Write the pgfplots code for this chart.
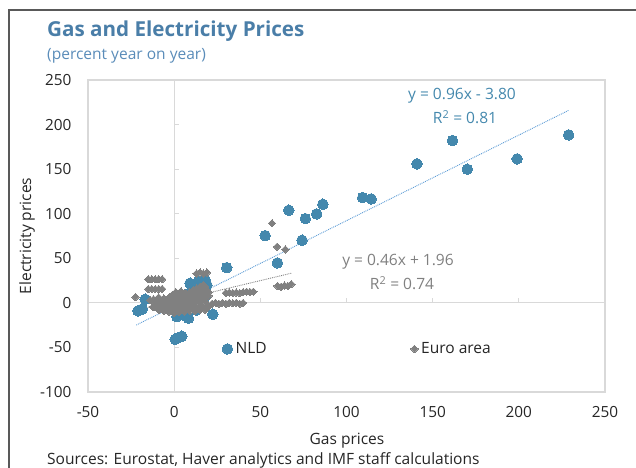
\documentclass[border=0pt]{standalone}
\usepackage{pgfplots}
\pgfplotsset{compat=1.18}
\usepackage{fontspec}
\setmainfont{Open Sans}
\definecolor{nldblue}{RGB}{68,136,173}
\definecolor{titleblue}{RGB}{74,126,168}
\definecolor{subblue}{RGB}{90,140,185}
\definecolor{eagray}{RGB}{128,128,128}
\definecolor{trendblue}{RGB}{91,155,213}
\definecolor{gridgray}{RGB}{217,217,217}
\definecolor{framegray}{RGB}{89,89,89}
\definecolor{txt}{RGB}{38,38,38}
\newcommand{\fs}[1]{\fontsize{#1}{#1}\selectfont}
\begin{document}
\begin{tikzpicture}[x=1bp,y=1bp]
\useasboundingbox (0,0) rectangle (636,468);
\draw[framegray, line width=1.2bp] (9,0) -- (9,458) -- (636,458);
% titles
\node[anchor=west, text=titleblue, font=\bfseries\fs{20.7}, inner sep=0] at (47,437) {Gas and Electricity Prices};
\node[anchor=west, text=subblue, font=\fs{15.6}, inner sep=0] at (47,412) {(percent year on year)};
% zero lines with ticks
\draw[gridgray, line width=1.2bp] (174.17,76) -- (174.17,388);
\draw[gridgray, line width=1.2bp] (88,165.14) -- (605,165.14);
\foreach \yy in {76,120.57,165.14,209.71,254.29,298.86,343.43,388} \draw[gridgray, line width=1.2bp] (174.17,\yy) -- ++(5,0);
\foreach \xx in {88,174.17,260.33,346.5,432.67,518.83,605} \draw[gridgray, line width=1.2bp] (\xx,165.14) -- ++(0,5);
\begin{axis}[
  at={(88bp,76bp)}, anchor=south west, scale only axis,
  width=517bp, height=312bp,
  xmin=-50, xmax=250, ymin=-100, ymax=250,
  xtick={-50,0,...,250}, ytick={-100,-50,...,250},
  major tick length=0pt,
  axis line style={gridgray, line width=1.2bp},
  tick label style={font=\fs{15.4}, text=txt},
  /pgf/number format/assume math mode=true,
  xticklabel style={yshift=-11bp},
  yticklabel style={xshift=-13bp},
  clip=false,
  legend columns=2,
  legend style={at={(0.259,0.138)}, anchor=west, draw=none, fill=none, font=\fs{15.6}, text=txt, inner sep=0pt,
    /tikz/every odd column/.append style={column sep=1bp},
    /tikz/every even column/.append style={column sep=142bp}},
  legend image code/.code={\draw[#1] plot coordinates {(0bp,0bp)};},
]
\addplot[only marks, mark=*, mark size=5.3bp, mark options={fill=nldblue, draw=nldblue, line width=0pt}] coordinates {
(228.9,188.4) (199,161.5) (161.5,182.1) (170.1,149.9) (140.9,155.9) (109.4,118.1) (114.3,116.6)
(86.3,110.6) (82.7,99.8) (76.1,94.5) (66.5,103.9) (74.2,70.2) (52.8,75.4) (59.9,44.8) (30.5,39.5)
(22.4,-12.8) (-16.8,4) (-21,-9) (-18.5,-7) (1.5,-15.5) (7.3,-15.5) (8.3,-17.3) (0.6,-40.9) (2.5,-39) (4.4,-37.5)
(9.2,22) (14,23.8) (17.9,25.7) (16,14.5) (17.9,7) (11.2,8.9) (19,20) (-0.4,-4.2) (13,-8)
(0,0) (5,2) (-5,-3) (10,5) (3,-5) (8,10) (12,12) (-8,-2) (6,-8) (15,15)
};
\addlegendentry{NLD}
\addplot[only marks, mark=square*, mark size=2.6bp, mark options={fill=eagray, draw=eagray, line width=0pt, rotate=45}] table {
x y
-15 26.5
-13 26.5
-11 26.5
-9 26.5
-7 26.5
-15 15.5
-13 15.5
-11 15.5
-9 15.5
-7 15.5
-22.5 6.5
-14 3
-12 2
-11 -2
-10 0.5
-9 -4
-8 3
-7 -1
-6 1
-5 -4
-4 2
-3 -2
-2 4
-1 0
0 2
0 -3
1 5
1 -1
2 3
2 -4
3 6
3 0
4 4
4 -3
5 8
5 2
6 6
6 -1
7 10
7 3
8 8
8 -2
9 12
9 5
10 10
10 1
11 14
11 6
12 12
12 -1
13 16
13 7
14 14
14 3
15 18
15 9
16 16
16 4
17 20
17 10
18 18
18 5
19 14
20 12
20 8
-12 -4
-12 4
-9 -8
-9 6
-6 -9
-6 5
-6 -3
-3 -10
-3 6
-3 -5
-1 9
0 -11
0 8
0 5
1 12
3 -10
3 10
3 -6
4 13
6 -10
6 11
6 3
9 -9
9 2
12 -9
12 3
15 -8
15 1
18 -8
18 1
-12 -5
-10 -6
-8 -7
-6 -6
-4 -8
-2 -7
0 -8
2 -7
4 -8
6 -7
8 -6
10 -6
12 -5
14 -6
16 -5
18 -6
20 -4
22 -1
24 0
26 -1
28 0
30 -1
32 0
34 -0.5
36 0
38 -1
40 0
30 11
32 11.5
34 11
36 11.5
38 11
40 12
42 12.5
44 12
46 12.5
13 33
15 34
17 33
19 34
56.8 89.3
59.7 63
64.5 60
60 19
62 18
64 19.5
66 19
68 21
};
\addlegendentry{Euro area}
\addplot[trendblue, densely dotted, line width=0.9bp, forget plot] coordinates {(-22,-24.92) (229,216.04)};
\addplot[eagray, densely dotted, line width=0.9bp, forget plot] coordinates {(-22.5,-8.39) (68,33.24)};
\end{axis}
% annotations
\node[text=nldblue, font=\fs{15.6}] at (462,372) {y = 0.96x - 3.80};
\node[text=nldblue, font=\fs{15.6}] at (465,351) {R\textsuperscript{2} = 0.81};
\node[text=eagray, font=\fs{15.6}] at (398,206) {y = 0.46x + 1.96};
\node[text=eagray, font=\fs{15.6}] at (402,185) {R\textsuperscript{2} = 0.74};
% axis labels
\node[text=txt, font=\fs{15.6}] at (347,27) {Gas prices};
\node[text=txt, font=\fs{15.6}, rotate=90] at (27,232) {Electricity prices};
\node[anchor=west, text=txt, font=\fs{15.6}, inner sep=0] at (47,8) {Sources: Eurostat, Haver analytics and IMF staff calculations};
\end{tikzpicture}
\end{document}
